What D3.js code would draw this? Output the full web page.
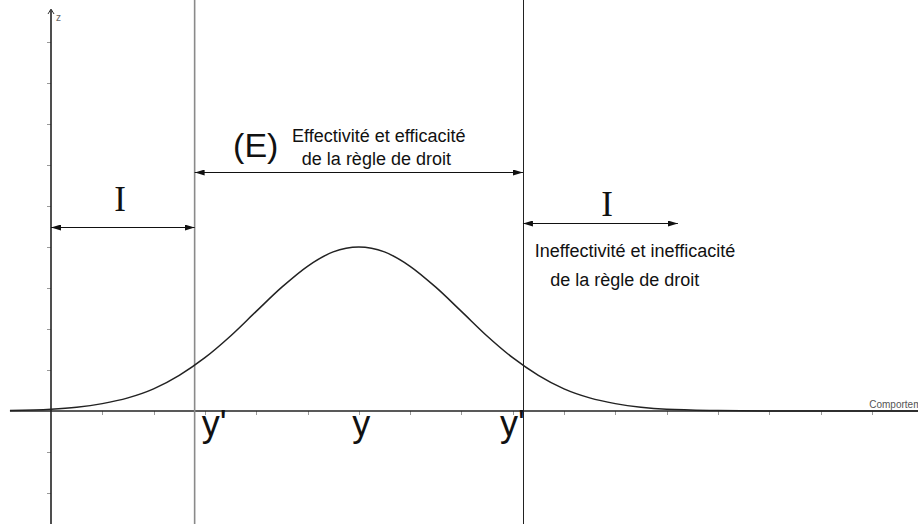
<!DOCTYPE html>
<html>
<head>
<meta charset="utf-8">
<script src="https://cdn.jsdelivr.net/npm/d3@7"></script>
<style>
  body { margin: 0; background: #fff; }
  svg { display: block; font-family: "Liberation Sans", Arial, sans-serif; }
</style>
</head>
<body>
<svg id="chart" width="918" height="524"></svg>
<script>
// curve (behaviour on x, z up)
var curveX = [-0.8, 0, 0.5, 1, 1.5, 2, 2.5, 3, 3.5, 4, 4.5, 5, 5.5, 6,
              6.5, 7, 7.5, 8, 8.5, 9, 9.5, 10, 10.5, 11, 11.5, 12, 13, 14, 15, 17];
var curveZ = [0.01, 0.04, 0.09, 0.18, 0.32, 0.54, 0.87, 1.30, 1.83, 2.43, 3.02, 3.53, 3.88, 4.00,
              3.88, 3.53, 3.02, 2.43, 1.83, 1.30, 0.87, 0.54, 0.32, 0.18, 0.09, 0.04, 0.01, 0, 0, 0];

var yPrime = [2.8, 9.2];   // the two vertical bounds y'
var yMean = 6;             // y
var xTicks = d3.range(1, 18);
var zTicks = d3.range(-2, 10).filter(function(d) { return d !== 0; });

var leftLabel = "I";
var middleLabel = "(E)";
var middleText = ["Effectivité et efficacité", "de la règle de droit"];
var rightLabel = "I";
var rightText = ["Ineffectivité et inefficacité", "de la règle de droit"];
var xAxisName = "Comportement";
var zAxisName = "z";

var svg = d3.select("#chart");

var x = d3.scaleLinear().domain([0, 16]).range([51, 51 + 16 * 51.3]);
var z = d3.scaleLinear().domain([0, 4]).range([411, 247]);
var crisp = function(v) { return Math.round(v) + 0.5; };

var defs = svg.append("defs");
defs.append("marker")
  .attr("id", "head")
  .attr("viewBox", "0 0 10 6")
  .attr("refX", 10).attr("refY", 3)
  .attr("markerWidth", 10).attr("markerHeight", 6)
  .attr("markerUnits", "userSpaceOnUse")
  .attr("orient", "auto-start-reverse")
  .append("path").attr("d", "M0,0L10,3L0,6Z").attr("fill", "#111");

// ticks
svg.append("g").selectAll("line").data(xTicks).join("line")
  .attr("x1", function(d) { return crisp(x(d)); }).attr("x2", function(d) { return crisp(x(d)); })
  .attr("y1", z(0)).attr("y2", z(0) + 4)
  .attr("stroke", "#999").attr("stroke-width", 1);

svg.append("g").selectAll("line").data(zTicks).join("line")
  .attr("x1", x(0) - 4).attr("x2", x(0))
  .attr("y1", function(d) { return crisp(z(d)); }).attr("y2", function(d) { return crisp(z(d)); })
  .attr("stroke", "#999").attr("stroke-width", 1);

// axes
svg.append("line")
  .attr("x1", x(-0.8)).attr("x2", 918)
  .attr("y1", z(0)).attr("y2", z(0))
  .attr("stroke", "#222").attr("stroke-width", 1.6);

svg.append("line")
  .attr("x1", x(0)).attr("x2", x(0))
  .attr("y1", 524).attr("y2", 10)
  .attr("stroke", "#222").attr("stroke-width", 1.6);

svg.append("path")
  .attr("d", "M" + (x(0) - 3) + ",14L" + x(0) + ",9L" + (x(0) + 3) + ",14")
  .attr("fill", "none").attr("stroke", "#333").attr("stroke-width", 1);

svg.append("text")
  .attr("x", x(0) + 5).attr("y", 21)
  .attr("font-size", 10).attr("fill", "#666")
  .text(zAxisName);

svg.append("text")
  .attr("x", x(15.95)).attr("y", z(0) - 3)
  .attr("font-size", 10).attr("fill", "#555")
  .text(xAxisName);

// vertical bounds
svg.append("line")
  .attr("x1", x(yPrime[0])).attr("x2", x(yPrime[0]))
  .attr("y1", 0).attr("y2", 524)
  .attr("stroke", "#8a8a8a").attr("stroke-width", 1.6);
svg.append("line")
  .attr("x1", crisp(x(yPrime[1]))).attr("x2", crisp(x(yPrime[1])))
  .attr("y1", 0).attr("y2", 524)
  .attr("stroke", "#222").attr("stroke-width", 1);

// curve
var pts = d3.zip(curveX, curveZ);
svg.append("path")
  .datum(pts)
  .attr("d", d3.line()
    .x(function(d) { return x(d[0]); })
    .y(function(d) { return z(d[1]); })
    .curve(d3.curveMonotoneX))
  .attr("fill", "none").attr("stroke", "#222").attr("stroke-width", 1.5);

// double arrows
function arrow(u0, u1, zz) {
  svg.append("line")
    .attr("x1", x(u0)).attr("x2", x(u1))
    .attr("y1", crisp(z(zz))).attr("y2", crisp(z(zz)))
    .attr("stroke", "#111").attr("stroke-width", 1)
    .attr("marker-start", "url(#head)")
    .attr("marker-end", "url(#head)");
}
arrow(0, yPrime[0], 4.49);
arrow(yPrime[0], yPrime[1], 5.83);
arrow(yPrime[1], 12.22, 4.58);

function label(u, zz, txt, size, family, anchor) {
  svg.append("text")
    .attr("x", x(u)).attr("y", z(zz))
    .attr("font-size", size)
    .attr("font-family", family || null)
    .attr("text-anchor", anchor || "start")
    .attr("fill", "#111")
    .text(txt);
}
var serif = "'Liberation Serif', 'Times New Roman', serif";
label(1.345, 4.88, leftLabel, 35, serif, "middle");
label(10.84, 4.76, rightLabel, 35, serif, "middle");
label(3.55, 6.2, middleLabel, 34);
label(4.70, 6.56, middleText[0], 18);
label(4.89, 6.0, middleText[1], 18);
label(9.43, 3.76, rightText[0], 18);
label(9.73, 3.05, rightText[1], 18);

// y', y, y' under the axis
label(2.94, -0.6, "y'", 36);
label(5.87, -0.6, "y", 36);
label(8.75, -0.6, "y'", 36);
</script>
</body>
</html>
